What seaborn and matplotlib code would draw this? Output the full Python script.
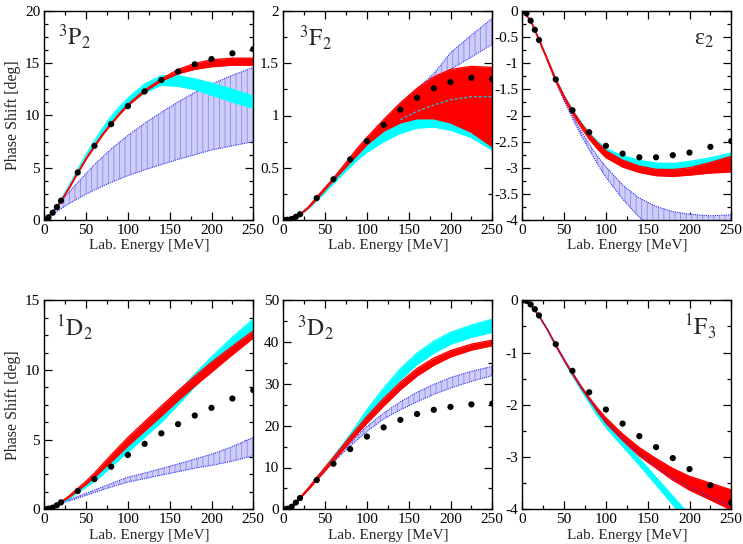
import matplotlib
matplotlib.use("Agg")
import matplotlib.pyplot as plt
import numpy as np
import pandas as pd
import seaborn as sns
from matplotlib.ticker import MultipleLocator, FuncFormatter

# ---------------- data ----------------
band_energy = [0, 10, 20, 30, 40, 50, 60, 70, 80, 90, 100, 120, 140, 160, 180, 200, 225, 250]
dot_energy = [1, 5, 10, 15, 20, 40, 60, 80, 100, 120, 140, 160, 180, 200, 225, 250]

# 3P2
p3p2_dots = [0.02, 0.25, 0.70, 1.24, 1.85, 4.55, 7.10, 9.17, 10.90, 12.30, 13.40, 14.20, 14.90, 15.40, 15.95, 16.35]
p3p2_red_lo = [0, 0.68, 1.78, 3.07, 4.46, 5.8, 7.0, 8.15, 9.15, 10.09, 10.94, 12.27, 13.3, 14.0, 14.42, 14.67, 14.82, 14.82]
p3p2_red_hi = [0, 0.68, 1.82, 3.13, 4.54, 5.9, 7.1, 8.25, 9.25, 10.21, 11.06, 12.43, 13.5, 14.4, 14.98, 15.33, 15.48, 15.48]
p3p2_cyan_lo = [0, 0.70, 1.85, 3.17, 4.58, 5.94, 7.15, 8.3, 9.3, 10.17, 10.95, 12.2, 12.9, 12.8, 12.5, 11.96, 11.3, 10.7]
p3p2_cyan_hi = [0, 0.74, 1.95, 3.33, 4.82, 6.26, 7.55, 8.8, 9.9, 10.83, 11.65, 13.0, 13.8, 13.8, 13.5, 13.1, 12.5, 11.86]
p3p2_blue_lo = [0, 0.55, 1.08, 1.58, 2.05, 2.48, 2.88, 3.25, 3.6, 3.93, 4.25, 4.8, 5.3, 5.8, 6.25, 6.7, 7.1, 7.5]
p3p2_blue_hi = [0, 0.9, 1.8, 2.7, 3.6, 4.45, 5.3, 6.05, 6.8, 7.45, 8.1, 9.25, 10.3, 11.3, 12.2, 13.0, 13.85, 14.6]

# 3F2
p3f2_dots = [0.0, 0.003, 0.01, 0.03, 0.055, 0.21, 0.39, 0.58, 0.755, 0.91, 1.056, 1.17, 1.26, 1.32, 1.36, 1.35]
p3f2_red_lo = [0, 0.01, 0.05, 0.115, 0.2, 0.29, 0.38, 0.465, 0.55, 0.635, 0.72, 0.85, 0.93, 0.97, 0.97, 0.93, 0.84, 0.70]
p3f2_red_hi = [0, 0.01, 0.055, 0.125, 0.22, 0.31, 0.40, 0.5, 0.60, 0.70, 0.79, 0.96, 1.12, 1.26, 1.37, 1.44, 1.47, 1.46]
p3f2_cyan_lo = [0, 0.008, 0.045, 0.11, 0.185, 0.265, 0.35, 0.43, 0.51, 0.585, 0.65, 0.75, 0.83, 0.88, 0.89, 0.86, 0.79, 0.67]
p3f2_cyan_hi = [0, 0.01, 0.05, 0.12, 0.2, 0.29, 0.38, 0.47, 0.56, 0.65, 0.73, 0.85, 0.93, 0.98, 0.99, 0.97, 0.90, 0.75]
p3f2_blue_lo = [0, 0.01, 0.05, 0.12, 0.21, 0.3, 0.39, 0.48, 0.57, 0.66, 0.75, 0.92, 1.08, 1.22, 1.34, 1.44, 1.56, 1.68]
p3f2_blue_hi = [0, 0.01, 0.05, 0.12, 0.21, 0.3, 0.39, 0.485, 0.58, 0.675, 0.77, 0.95, 1.11, 1.255, 1.40, 1.60, 1.77, 1.93]
p3f2_dash_energy = [140, 160, 180, 200, 225, 250]
p3f2_dash = [0.96, 1.04, 1.10, 1.15, 1.18, 1.18]

# epsilon2
peps_dots = [0.0, -0.045, -0.185, -0.36, -0.555, -1.31, -1.90, -2.32, -2.58, -2.73, -2.80, -2.80, -2.76, -2.71, -2.60, -2.49]
peps_red_lo = [0, -0.18, -0.56, -0.945, -1.34, -1.675, -1.96, -2.22, -2.45, -2.64, -2.805, -2.985, -3.09, -3.15, -3.165, -3.14, -3.10, -3.08]
peps_red_hi = [0, -0.18, -0.54, -0.915, -1.30, -1.625, -1.90, -2.14, -2.35, -2.52, -2.675, -2.855, -2.97, -3.03, -3.035, -3.0, -2.90, -2.78]
peps_cyan_lo = [0, -0.18, -0.55, -0.93, -1.32, -1.645, -1.93, -2.175, -2.39, -2.565, -2.725, -2.87, -2.96, -3.01, -3.02, -2.98, -2.91, -2.84]
peps_cyan_hi = [0, -0.18, -0.54, -0.91, -1.30, -1.615, -1.89, -2.125, -2.33, -2.495, -2.635, -2.77, -2.86, -2.91, -2.92, -2.88, -2.81, -2.72]
peps_blue_lo = [0, -0.18, -0.56, -0.95, -1.36, -1.72, -2.06, -2.37, -2.65, -2.93, -3.18, -3.6, -3.95, -4.2, -4.35, -4.4, -4.4, -4.35]
peps_blue_hi = [0, -0.18, -0.55, -0.94, -1.33, -1.68, -2.0, -2.29, -2.55, -2.78, -2.98, -3.33, -3.58, -3.74, -3.84, -3.89, -3.92, -3.9]

# 1D2
p1d2_dots = [0.0, 0.05, 0.12, 0.29, 0.50, 1.31, 2.17, 3.06, 3.90, 4.70, 5.45, 6.11, 6.73, 7.28, 7.95, 8.55]
p1d2_red_lo = [0, 0.15, 0.47, 0.88, 1.34, 1.79, 2.30, 2.85, 3.40, 3.97, 4.55, 5.62, 6.70, 7.80, 8.85, 9.85, 11.1, 12.3]
p1d2_red_hi = [0, 0.15, 0.53, 0.98, 1.50, 2.01, 2.60, 3.25, 3.90, 4.53, 5.15, 6.28, 7.40, 8.50, 9.55, 10.55, 11.7, 12.8]
p1d2_cyan_lo = [0, 0.14, 0.40, 0.78, 1.2, 1.6, 2.0, 2.5, 3.05, 3.58, 4.1, 5.18, 6.25, 7.5, 8.8, 10.08, 11.55, 12.95]
p1d2_cyan_hi = [0, 0.14, 0.50, 0.92, 1.4, 1.9, 2.4, 3.0, 3.65, 4.28, 4.9, 6.02, 7.15, 8.4, 9.7, 10.92, 12.35, 13.65]
p1d2_blue_lo = [0, 0.19, 0.42, 0.61, 0.8, 1.0, 1.2, 1.4, 1.6, 1.78, 1.95, 2.2, 2.45, 2.7, 2.95, 3.15, 3.45, 3.85]
p1d2_blue_hi = [0, 0.2, 0.45, 0.69, 0.92, 1.15, 1.38, 1.62, 1.85, 2.08, 2.3, 2.6, 2.92, 3.25, 3.6, 3.95, 4.5, 5.15]

# 3D2
p3d2_dots = [0.0, 0.15, 0.6, 1.6, 2.7, 7.0, 10.9, 14.4, 17.4, 19.6, 21.4, 22.8, 23.8, 24.5, 25.1, 25.3]
p3d2_red_lo = [0, 0.8, 2.6, 4.7, 7.0, 9.27, 11.55, 13.88, 16.2, 18.4, 20.6, 24.7, 28.6, 31.9, 34.45, 36.45, 38.1, 39.15]
p3d2_red_hi = [0, 0.8, 2.8, 5.1, 7.6, 10.03, 12.45, 14.92, 17.4, 19.8, 22.2, 26.5, 30.4, 33.7, 36.15, 37.95, 39.5, 40.45]
p3d2_cyan_lo = [0, 0.8, 2.55, 4.7, 7.0, 9.3, 11.6, 14.0, 16.5, 19.1, 21.8, 26.65, 31.0, 34.65, 37.4, 39.5, 41.15, 42.35]
p3d2_cyan_hi = [0, 0.8, 2.75, 5.1, 7.6, 10.1, 12.6, 15.2, 17.9, 20.8, 23.8, 28.95, 33.6, 37.35, 40.2, 42.3, 44.05, 45.45]
p3d2_blue_lo = [0, 0.8, 2.6, 4.7, 6.9, 9.1, 11.2, 13.2, 15.1, 16.9, 18.6, 21.6, 23.8, 25.7, 27.5, 29.0, 30.6, 32.0]
p3d2_blue_hi = [0, 0.8, 2.65, 4.85, 7.1, 9.4, 11.6, 13.75, 15.8, 17.8, 19.8, 23.0, 25.7, 28.0, 29.9, 31.5, 33.0, 34.2]

# 1F3
p1f3_dots = [0.0, -0.01, -0.08, -0.17, -0.29, -0.84, -1.35, -1.76, -2.09, -2.36, -2.60, -2.81, -3.02, -3.23, -3.54, -3.87]
p1f3_red_lo = [0, -0.08, -0.3, -0.565, -0.87, -1.152, -1.415, -1.668, -1.9, -2.135, -2.35, -2.68, -2.98, -3.21, -3.44, -3.63, -3.82, -4.01]
p1f3_red_hi = [0, -0.08, -0.3, -0.555, -0.85, -1.128, -1.385, -1.632, -1.86, -2.065, -2.25, -2.56, -2.82, -3.03, -3.22, -3.37, -3.50, -3.63]
p1f3_cyan_lo = [0, -0.08, -0.3, -0.565, -0.87, -1.165, -1.44, -1.705, -1.96, -2.21, -2.43, -2.795, -3.15, -3.53, -3.91, -4.29, -4.76, -5.2]
p1f3_cyan_hi = [0, -0.08, -0.3, -0.555, -0.85, -1.135, -1.40, -1.655, -1.90, -2.13, -2.33, -2.685, -3.03, -3.39, -3.75, -4.11, -4.56, -5.0]
p1f3_blue_lo = [0, -0.08, -0.3, -0.56, -0.86, -1.145, -1.4, -1.65, -1.89, -2.11, -2.32, -2.65, -2.93, -3.17, -3.4, -3.58, -3.77, -3.95]
p1f3_blue_hi = [0, -0.08, -0.3, -0.56, -0.86, -1.145, -1.4, -1.65, -1.89, -2.11, -2.32, -2.65, -2.93, -3.17, -3.4, -3.58, -3.77, -3.95]

panel_labels = [r"$^{3}\mathrm{P}_{2}$", r"$^{3}\mathrm{F}_{2}$", r"ε$_{2}$",
                r"$^{1}\mathrm{D}_{2}$", r"$^{3}\mathrm{D}_{2}$", r"$^{1}\mathrm{F}_{3}$"]

# ---------------- style ----------------
sns.set_style("ticks")
plt.rcParams["font.family"] = ["Liberation Serif", "DejaVu Serif"]
plt.rcParams["mathtext.fontset"] = "stix"
plt.rcParams["axes.unicode_minus"] = False
plt.rcParams["hatch.linewidth"] = 0.6
plt.rcParams["axes.edgecolor"] = "black"
plt.rcParams["axes.linewidth"] = 1.0

panels = [
    dict(dots=p3p2_dots, red=(p3p2_red_lo, p3p2_red_hi), cyan=(p3p2_cyan_lo, p3p2_cyan_hi),
         blue=(p3p2_blue_lo, p3p2_blue_hi), ylim=(0, 20), major=5, minor=1.25, lab=(0.065, 0.837)),
    dict(dots=p3f2_dots, red=(p3f2_red_lo, p3f2_red_hi), cyan=(p3f2_cyan_lo, p3f2_cyan_hi),
         blue=(p3f2_blue_lo, p3f2_blue_hi), ylim=(0, 2), major=0.5, minor=0.25, lab=(0.075, 0.834)),
    dict(dots=peps_dots, red=(peps_red_lo, peps_red_hi), cyan=(peps_cyan_lo, peps_cyan_hi),
         blue=(peps_blue_lo, peps_blue_hi), ylim=(-4, 0), major=0.5, minor=0.25, lab=(0.82, 0.837)),
    dict(dots=p1d2_dots, red=(p1d2_red_lo, p1d2_red_hi), cyan=(p1d2_cyan_lo, p1d2_cyan_hi),
         blue=(p1d2_blue_lo, p1d2_blue_hi), ylim=(0, 15), major=5, minor=1.25, lab=(0.058, 0.83)),
    dict(dots=p3d2_dots, red=(p3d2_red_lo, p3d2_red_hi), cyan=(p3d2_cyan_lo, p3d2_cyan_hi),
         blue=(p3d2_blue_lo, p3d2_blue_hi), ylim=(0, 50), major=10, minor=5, lab=(0.065, 0.83)),
    dict(dots=p1f3_dots, red=(p1f3_red_lo, p1f3_red_hi), cyan=(p1f3_cyan_lo, p1f3_cyan_hi),
         blue=(p1f3_blue_lo, p1f3_blue_hi), ylim=(-4, 0), major=1, minor=0.5, lab=(0.775, 0.833)),
]

W, H = 743, 544
fig = plt.figure(figsize=(W / 100, H / 100), dpi=100)
lefts = [44.3, 283.3, 522.3]
bottoms = [220.0, 509.3]
aw, ah = 209.0, 209.0

fmt = FuncFormatter(lambda v, p: "%g" % round(v, 6))

for i, pdict in enumerate(panels):
    r, c = divmod(i, 3)
    ax = fig.add_axes([lefts[c] / W, 1 - bottoms[r] / H, aw / W, ah / H])
    E = np.array(band_energy)
    blo, bhi = pdict["blue"]
    ax.fill_between(E, blo, bhi, facecolor="#cdcdf7", edgecolor="#8c8cf0",
                    hatch="|||", linewidth=0, zorder=1)
    ax.plot(E, blo, color="#2a2aff", ls=(0, (1, 1)), lw=0.8, zorder=1.5)
    ax.plot(E, bhi, color="#2a2aff", ls=(0, (1, 1)), lw=0.8, zorder=1.5)

    clo, chi = pdict["cyan"]
    ax.fill_between(E, clo, chi, facecolor="#00ffff", linewidth=0, zorder=2)
    ax.plot(E, clo, color="#00ffff", lw=1.0, zorder=2)
    ax.plot(E, chi, color="#00ffff", lw=1.0, zorder=2)

    rlo, rhi = pdict["red"]
    ax.fill_between(E, rlo, rhi, facecolor="#ff0000", linewidth=0, zorder=3)
    ax.plot(E, rlo, color="#ff0000", lw=1.0, zorder=3)
    ax.plot(E, rhi, color="#ff0000", lw=1.0, zorder=3)

    if i == 1:
        ax.plot(p3f2_dash_energy, p3f2_dash, color="#20c0d0", ls=(0, (2, 1.5)), lw=1.0, zorder=3.5)
    if i == 5:
        ax.plot(E, p1f3_blue_lo, color="#2a2aff", ls=(0, (1, 1.5)), lw=0.8, zorder=3.5)

    df = pd.DataFrame({"E": dot_energy, "delta": pdict["dots"]})
    sns.scatterplot(data=df, x="E", y="delta", color="black", s=20, edgecolor="none",
                    ax=ax, zorder=5, clip_on=True)

    ax.set_xlim(0, 250)
    ax.set_ylim(*pdict["ylim"])
    ax.xaxis.set_major_locator(MultipleLocator(50))
    ax.xaxis.set_minor_locator(MultipleLocator(25))
    ax.yaxis.set_major_locator(MultipleLocator(pdict["major"]))
    ax.yaxis.set_minor_locator(MultipleLocator(pdict["minor"]))
    ax.yaxis.set_major_formatter(fmt)
    ax.xaxis.set_major_formatter(fmt)
    ax.tick_params(which="both", direction="in", top=True, right=True, labelsize=11,
                   width=0.9, colors="black", pad=3)
    ax.tick_params(which="major", length=5.5)
    ax.tick_params(which="minor", length=3)
    for s in ax.spines.values():
        s.set_visible(True)
        s.set_linewidth(1.0)
        s.set_color("black")
        s.set_zorder(10)

    ax.set_xlabel("Lab. Energy [MeV]", fontsize=11, labelpad=1.5)
    if c == 0:
        ax.set_ylabel("Phase Shift [deg]", fontsize=11.5, labelpad=2.5)
    else:
        ax.set_ylabel("")

    lx, ly = pdict["lab"]
    ax.text(lx, ly, panel_labels[i], transform=ax.transAxes, fontsize=17,
            ha="left", va="baseline", zorder=11)

fig.savefig("out.png", dpi=100)
